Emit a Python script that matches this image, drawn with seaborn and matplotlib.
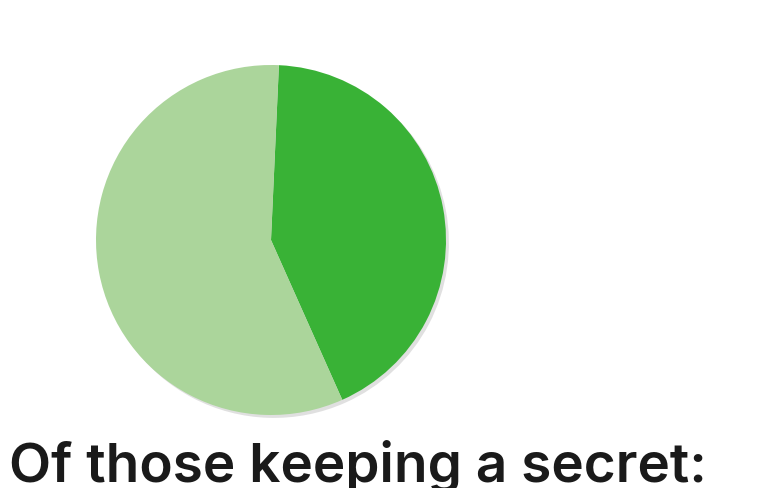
import matplotlib
matplotlib.use("Agg")
import matplotlib.pyplot as plt
import seaborn as sns

# Data
categories = ["Told someone", "Kept it to themselves"]
shares = [42.6, 57.4]
colors = ["#39B236", "#ABD59B"]
title_text = "Of those keeping a secret:"

sns.set_theme(style="white")
plt.rcParams["font.family"] = ["Inter", "DejaVu Sans"]

fig = plt.figure(figsize=(7.68, 4.88), dpi=100)
ax = fig.add_axes([96 / 768, 73 / 488, 350 / 768, 350 / 488])
ax.pie(
    shares,
    colors=colors,
    startangle=87.4,
    counterclock=False,
    radius=1.0,
    wedgeprops={"linewidth": 0},
    shadow={"ox": 0.012, "oy": -0.012, "facecolor": "0.6", "edgecolor": "none", "alpha": 0.3},
)
ax.set_xlim(-1, 1)
ax.set_ylim(-1, 1)
ax.set_aspect("equal")
ax.axis("off")

fig.text(9 / 768, 6 / 488, title_text, fontsize=39.5, fontweight="semibold",
         color="#1a1a1a", ha="left", va="baseline")

fig.savefig("out.png", dpi=100, facecolor="white")
